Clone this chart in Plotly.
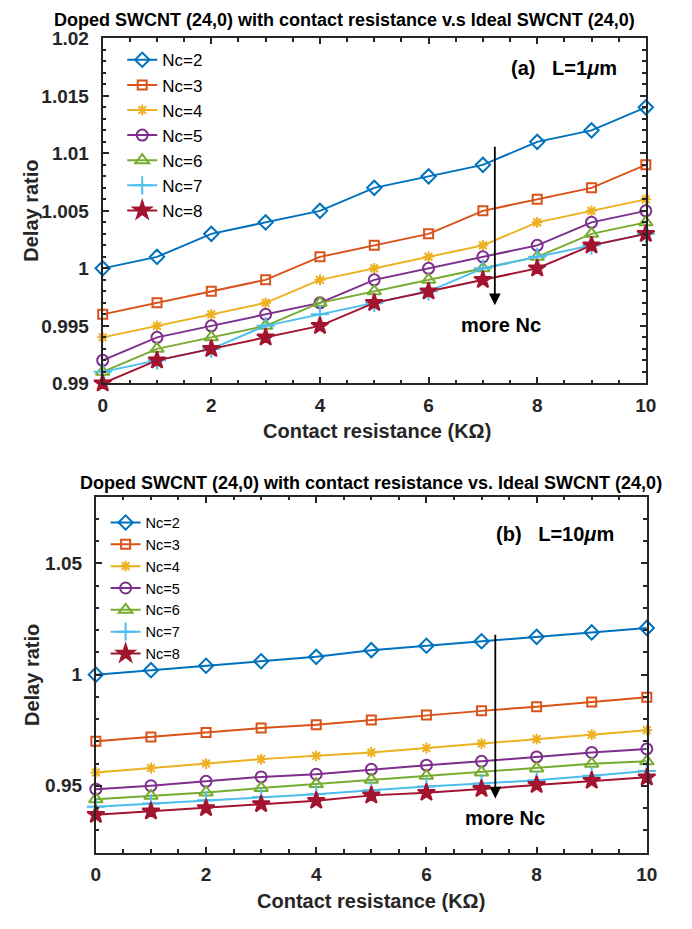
import plotly.graph_objects as go

W, H = 692, 929

x_vals = [0, 1, 2, 3, 4, 5, 6, 7, 8, 9, 10]
series_names = ["Nc=2", "Nc=3", "Nc=4", "Nc=5", "Nc=6", "Nc=7", "Nc=8"]

# Panel (a) L=1um
a_nc2 = [1.000, 1.001, 1.003, 1.004, 1.005, 1.007, 1.008, 1.009, 1.011, 1.012, 1.014]
a_nc3 = [0.996, 0.997, 0.998, 0.999, 1.001, 1.002, 1.003, 1.005, 1.006, 1.007, 1.009]
a_nc4 = [0.994, 0.995, 0.996, 0.997, 0.999, 1.000, 1.001, 1.002, 1.004, 1.005, 1.006]
a_nc5 = [0.992, 0.994, 0.995, 0.996, 0.997, 0.999, 1.000, 1.001, 1.002, 1.004, 1.005]
a_nc6 = [0.991, 0.993, 0.994, 0.995, 0.997, 0.998, 0.999, 1.000, 1.001, 1.003, 1.004]
a_nc7 = [0.991, 0.992, 0.993, 0.995, 0.996, 0.997, 0.998, 1.000, 1.001, 1.002, 1.003]
a_nc8 = [0.990, 0.992, 0.993, 0.994, 0.995, 0.997, 0.998, 0.999, 1.000, 1.002, 1.003]

# Panel (b) L=10um
b_nc2 = [1.000, 1.002, 1.004, 1.006, 1.008, 1.011, 1.013, 1.015, 1.017, 1.019, 1.021]
b_nc3 = [0.970, 0.972, 0.974, 0.976, 0.9775, 0.9796, 0.9818, 0.9837, 0.9856, 0.9877, 0.9898]
b_nc4 = [0.956, 0.958, 0.960, 0.962, 0.9635, 0.965, 0.967, 0.969, 0.971, 0.973, 0.975]
b_nc5 = [0.9485, 0.950, 0.952, 0.954, 0.9552, 0.9574, 0.9593, 0.961, 0.963, 0.965, 0.9666]
b_nc6 = [0.944, 0.9455, 0.947, 0.949, 0.9508, 0.9527, 0.9545, 0.956, 0.9578, 0.9599, 0.961]
b_nc7 = [0.9406, 0.942, 0.9435, 0.945, 0.9462, 0.948, 0.9497, 0.951, 0.9525, 0.9545, 0.9567]
b_nc8 = [0.937, 0.9385, 0.940, 0.9418, 0.9433, 0.9457, 0.9469, 0.9486, 0.9504, 0.9523, 0.9538]

a_series = [a_nc2, a_nc3, a_nc4, a_nc5, a_nc6, a_nc7, a_nc8]
b_series = [b_nc2, b_nc3, b_nc4, b_nc5, b_nc6, b_nc7, b_nc8]

a_ytickvals = [0.99, 0.995, 1.0, 1.005, 1.01, 1.015, 1.02]
a_yticktext = ["0.99", "0.995", "1", "1.005", "1.01", "1.015", "1.02"]
b_ytickvals = [0.95, 1.0, 1.05]
b_yticktext = ["0.95", "1", "1.05"]
xtickvals = [0, 2, 4, 6, 8, 10]

colors = ["#0072BD", "#D95319", "#EDB120", "#7E2F8E", "#77AC30", "#4DBEEE", "#A2142F"]
symbols = ["diamond-open", "square-open", "asterisk-open", "circle-open",
           "triangle-up-open", "cross-thin-open", "star"]
sizes = [11, 9, 9, 11, 12, 13, 13]

FONT = "Liberation Sans, Arial, sans-serif"
AX = "#262626"

fig = go.Figure()

for i, name in enumerate(series_names):
    fig.add_trace(go.Scatter(
        x=x_vals, y=a_series[i], name=name, mode="lines+markers",
        line=dict(color=colors[i], width=2),
        marker=dict(symbol=symbols[i], size=sizes[i], color=colors[i],
                    line=dict(color=colors[i], width=2)),
        cliponaxis=False, xaxis="x", yaxis="y", legend="legend"))

for i, name in enumerate(series_names):
    fig.add_trace(go.Scatter(
        x=x_vals, y=b_series[i], name=name, mode="lines+markers",
        line=dict(color=colors[i], width=2),
        marker=dict(symbol=symbols[i], size=sizes[i], color=colors[i],
                    line=dict(color=colors[i], width=2)),
        cliponaxis=False, xaxis="x2", yaxis="y2", legend="legend2"))

TICKFONT = dict(family=FONT, size=19, color="#262626", weight="bold")

def xa(domain, anchor):
    return dict(domain=domain, anchor=anchor, range=[0, 10], tickvals=xtickvals,
                ticks="inside", ticklen=6, tickwidth=1.5, tickcolor=AX,
                showline=True, linecolor=AX, linewidth=2, mirror="ticks",
                showgrid=False, zeroline=False, ticklabelstandoff=4,
                minor=dict(dtick=0.5, ticks="inside", ticklen=3.5, tickcolor=AX, tickwidth=1.5, showgrid=False),
                tickfont=TICKFONT)

def ya(domain, anchor, rng, tv, tt, minor_dt):
    return dict(domain=domain, anchor=anchor, range=rng, tickvals=tv, ticktext=tt,
                ticks="inside", ticklen=6, tickwidth=1.5, tickcolor=AX,
                showline=True, linecolor=AX, linewidth=2, mirror="ticks",
                showgrid=False, zeroline=False, ticklabelstandoff=8,
                minor=dict(dtick=minor_dt, tick0=0, ticks="inside", ticklen=3.5, tickcolor=AX, tickwidth=1.5, showgrid=False),
                tickfont=TICKFONT)

xd_a = [100 / W, 656 / W]
yd_a = [1 - 382 / H, 1 - 29 / H]
xd_b = [93 / W, 657 / W]
yd_b = [1 - 862 / H, 1 - 498 / H]

TITLEFONT = dict(family=FONT, size=18, color="black")
LBLFONT = dict(family=FONT, size=20, color="#262626")
TXTFONT = dict(family=FONT, size=20, color="black")

annotations = [
    dict(text="<b>Doped SWCNT (24,0) with contact resistance v.s Ideal SWCNT (24,0)</b>",
         x=348 / W, y=1 - 10 / H, xref="paper", yref="paper", showarrow=False,
         font=TITLEFONT, xanchor="center", yanchor="middle"),
    dict(text="<b>Doped SWCNT (24,0) with contact resistance vs. Ideal SWCNT (24,0)</b>",
         x=375 / W, y=1 - 484 / H, xref="paper", yref="paper", showarrow=False,
         font=TITLEFONT, xanchor="center", yanchor="middle"),
    dict(text="<b>Contact resistance (KΩ)</b>", x=381 / W, y=1 - 431 / H, xref="paper", yref="paper",
         showarrow=False, font=LBLFONT, xanchor="center", yanchor="middle"),
    dict(text="<b>Contact resistance (KΩ)</b>", x=375 / W, y=1 - 912 / H, xref="paper", yref="paper",
         showarrow=False, font=LBLFONT, xanchor="center", yanchor="middle"),
    dict(text="<b>Delay ratio</b>", x=27 / W, y=1 - 205 / H, xref="paper", yref="paper", textangle=-90,
         showarrow=False, font=LBLFONT, xanchor="center", yanchor="middle"),
    dict(text="<b>Delay ratio</b>", x=27 / W, y=1 - 680 / H, xref="paper", yref="paper", textangle=-90,
         showarrow=False, font=LBLFONT, xanchor="center", yanchor="middle"),
    dict(text="<b>(a)   L=1<i>μ</i>m</b>", x=572 / W, y=1 - 59 / H, xref="paper", yref="paper",
         showarrow=False, font=TXTFONT, xanchor="center", yanchor="middle"),
    dict(text="<b>(b)   L=10<i>μ</i>m</b>", x=563 / W, y=1 - 536 / H, xref="paper", yref="paper",
         showarrow=False, font=TXTFONT, xanchor="center", yanchor="middle"),
    # arrows
    dict(x=7.22, y=0.9968, ax=7.22, ay=1.0107, xref="x", yref="y", axref="x", ayref="y",
         showarrow=True, arrowhead=2, arrowsize=1.3, arrowwidth=1.8, arrowcolor="black", text=""),
    dict(x=7.25, y=0.9443, ax=7.25, ay=1.0186, xref="x2", yref="y2", axref="x2", ayref="y2",
         showarrow=True, arrowhead=2, arrowsize=1.3, arrowwidth=1.8, arrowcolor="black", text=""),
    dict(text="<b>more Nc</b>", x=7.34, y=0.9951, xref="x", yref="y", showarrow=False,
         font=TXTFONT, xanchor="center", yanchor="middle"),
    dict(text="<b>more Nc</b>", x=7.43, y=0.9357, xref="x2", yref="y2", showarrow=False,
         font=TXTFONT, xanchor="center", yanchor="middle"),
]

fig.update_layout(
    width=W, height=H, margin=dict(l=0, r=0, t=0, b=0),
    paper_bgcolor="white", plot_bgcolor="white",
    font=dict(family=FONT, color="#262626"),
    xaxis=xa(xd_a, "y"),
    yaxis=ya(yd_a, "x", [0.99, 1.02], a_ytickvals, a_yticktext, 0.001),
    xaxis2=xa(xd_b, "y2"),
    yaxis2=ya(yd_b, "x2", [0.92, 1.08], b_ytickvals, b_yticktext, 0.01),
    legend=dict(x=120 / W, y=1 - 33 / H, xanchor="left", yanchor="top",
                bgcolor="rgba(0,0,0,0)", font=dict(family=FONT, size=17, color="black"),
                tracegroupgap=0, itemwidth=30),
    legend2=dict(x=103 / W, y=1 - 508 / H, xanchor="left", yanchor="top",
                 bgcolor="rgba(0,0,0,0)", font=dict(family=FONT, size=14.5, color="black"),
                 tracegroupgap=0, itemwidth=30),
    annotations=annotations,
    showlegend=True,
)

fig.write_html("out.html")
